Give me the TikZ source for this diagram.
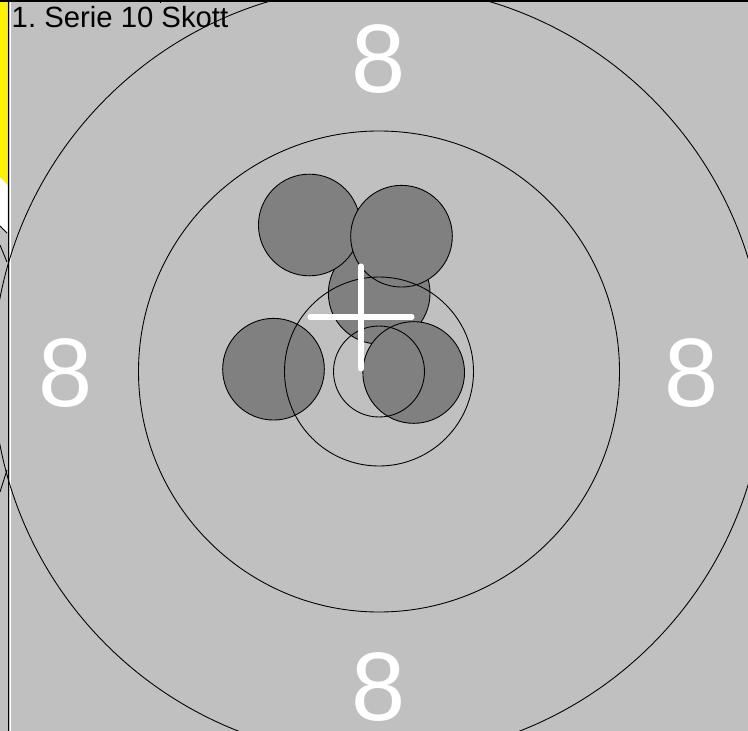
\documentclass[tikz,border=0pt]{standalone}
\usepackage{fontspec}
\setmainfont{Liberation Sans}
\usepackage{tikz}
\usetikzlibrary{positioning,calc}

\definecolor{targetgray}{RGB}{192,192,192}
\definecolor{shotgray}{RGB}{128,128,128}
\frenchspacing

\begin{document}
\begin{tikzpicture}[x=0.03cm, y=-0.03cm,
    ring/.style={draw=black, line width=0.75pt},
    shot/.style={circle, draw=black, line width=0.75pt, fill=shotgray,
      minimum size=3.05cm, inner sep=0pt},
    ringnum/.style={text=white, font=\fontsize{83}{83}\selectfont, inner sep=0pt, anchor=base},
    title/.style={text=black, font=\fontsize{25}{26}\selectfont, inner sep=0pt, anchor=base west},
    crossline/.style={draw=white, line width=4.3pt, line cap=round}
  ]
    \useasboundingbox (0,0) rectangle (748,731);
    % background
    \fill[targetgray] (0,0) rectangle (748,731);
    % neighbouring panel at the left edge
    \fill[yellow] (0,2) -- (7.5,2) -- (7.5,185) -- (0,177) -- cycle;
    \fill[white] (0,177) -- (7.5,185) -- (7.5,233) -- (0,225) -- cycle;
    \draw[ring] (0,226) -- (7,233);
    \draw[ring] (0,245) -- (7,262);
    \draw[ring] (7,470) -- (0,492);
    \draw[black, line width=1.2pt] (8.3,0) -- (8.3,731);
    \draw[white, line width=0.8pt] (10,0) -- (10,731);
    \draw[black, line width=1.2pt] (0,1) -- (748,1);
    \draw[black, line width=0.8pt] (160,1) -- (160,3.5);
    % shots
    \node[shot] (shotC) at (379.2,293.2) {};
    \node[shot] (shotA) at (309.3,225) {};
    \node[shot] (shotB) at (401.5,236.2) {};
    \node[shot] (shotD) at (273.5,369.2) {};
    \node[shot] (shotE) at (413.7,372.5) {};
    % rings
    \coordinate (mid) at (379,371.5);
    \draw[ring] (mid) circle (45.5);
    \draw[ring] (mid) circle (94.5);
    \draw[ring] (mid) circle (240.5);
    \draw[ring] (mid) circle (386);
    % ring numbers
    \node[ringnum] (numTop) at (379,93) {8};
    \node[ringnum] (numLeft) at (66,406) {8};
    \node[ringnum] (numRight) at (692,406) {8};
    \node[ringnum] (numBottom) at (379,720) {8};
    % aiming cross
    \coordinate (aim) at (361,317);
    \draw[crossline] (361,266) -- (361,369);
    \draw[crossline] (310,317) -- (412,317);
    \node[title] (serie) at (11.5,27.5) {1. Serie 10 Skott};
\end{tikzpicture}
\end{document}
